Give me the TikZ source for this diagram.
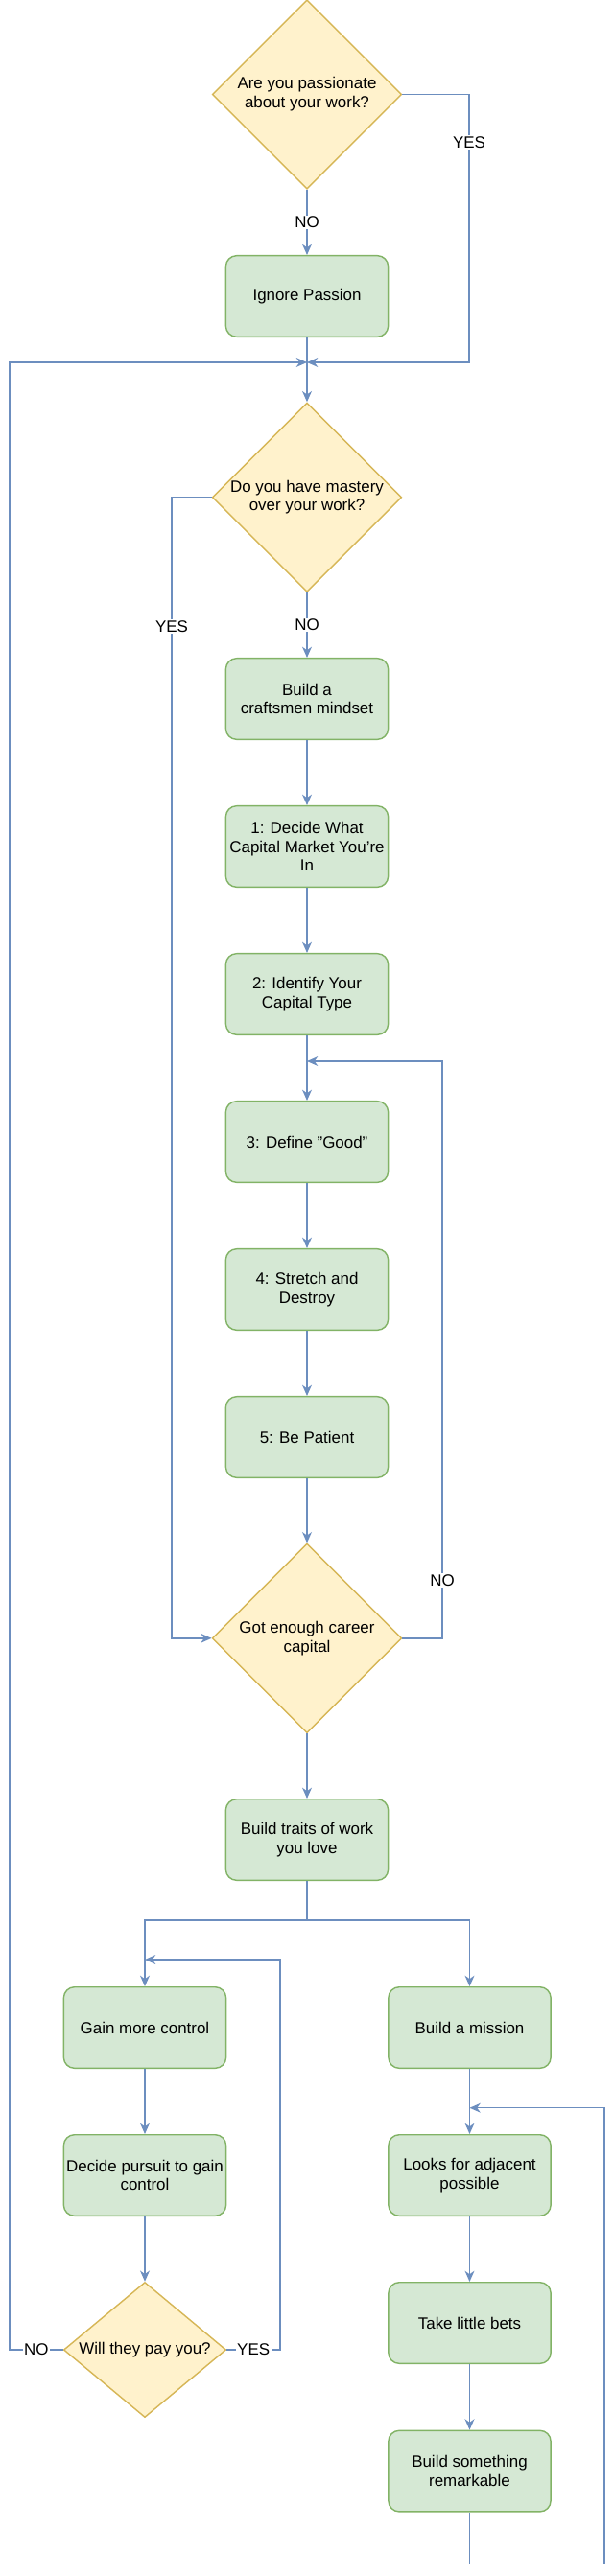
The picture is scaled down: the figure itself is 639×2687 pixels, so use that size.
\documentclass[tikz,border=0pt]{standalone}
\usepackage{fontspec}
\setmainfont{Liberation Sans}
\usetikzlibrary{shapes.geometric,arrows.meta}

\definecolor{procfill}{HTML}{D5E8D4}
\definecolor{procdraw}{HTML}{82B366}
\definecolor{decfill}{HTML}{FFF2CC}
\definecolor{decdraw}{HTML}{D6B656}
\definecolor{flowcol}{HTML}{6C8EBF}

\tikzset{
  basefont/.style={font=\fontsize{12}{14}\selectfont},
  process/.style={basefont, draw=procdraw, fill=procfill, line width=1pt,
    rounded corners=8pt, minimum width=120pt, minimum height=60pt,
    inner sep=1pt, align=center},
  decision/.style={basefont, diamond, draw=decdraw, fill=decfill, line width=1pt,
    minimum width=140pt, minimum height=140pt, inner sep=-4pt, align=center},
  flow/.style={draw=flowcol, line width=1pt,
    -{Stealth[length=8pt,width=7pt,inset=2.5pt]}},
  flowline/.style={draw=flowcol, line width=1pt},
  edgelabel/.style={basefont, fill=white, inner sep=1pt}
}

\begin{document}
\begin{tikzpicture}[x=0.709pt, y=-0.709pt]
\useasboundingbox (0,0) rectangle (639,2687);

% main column
\node[decision] (passion) at (320,98.5) {Are you passionate\\about your work?};
\node[process] (ignore) at (320,309) {Ignore Passion};
\coordinate (join) at (320,378);
\node[decision] (mastery) at (320,518.7) {Do you have mastery\\over your work?};
\node[process] (craft) at (320,729) {Build a\\craftsmen mindset};
\node[process] (market) at (320,883) {1: Decide What\\Capital Market You’re\\In};
\node[process] (captype) at (320,1037) {2: Identify Your\\Capital Type};
\node[process] (good) at (320,1191) {3: Define "Good"};
\node[process] (stretch) at (320,1345) {4: Stretch and\\Destroy};
\node[process] (patient) at (320,1499) {5: Be Patient};
\node[decision] (capital) at (320,1708.8) {Got enough career\\capital};
\node[process] (traits) at (320,1919) {Build traits of work\\you love};

% left branch
\node[process] (control) at (151,2115) {Gain more control};
\node[process] (pursuit) at (151,2269) {Decide pursuit to gain\\control};
\node[decision, minimum width=120pt, minimum height=100pt, shape aspect=1.2] (pay) at (151,2451) {Will they pay you?};

% right branch
\node[process] (mission) at (489.5,2115) {Build a mission};
\node[process] (adjacent) at (489.5,2269) {Looks for adjacent\\possible};
\node[process] (bets) at (489.5,2423) {Take little bets};
\node[process] (remarkable) at (489.5,2577.6) {Build something\\remarkable};

% connectors
\draw[flow] (passion.south) -- node[edgelabel] {NO} (ignore.north);
\draw[flow] (passion.east) -- (489,98.5) -- node[edgelabel, pos=0.18] {YES} (489,378) -- (join);
\draw[flow] (ignore.south) -- (mastery.north);
\draw[flow] (pay.west) -- node[edgelabel] {NO} (10,2451) -- (10,378) -- (join);

\draw[flow] (mastery.south) -- node[edgelabel] {NO} (craft.north);
\draw[flow] (mastery.west) -- (179,518.7) -- node[edgelabel, pos=0.113] {YES} (179,1708.8) -- (capital.west);
\draw[flow] (craft) -- (market);
\draw[flow] (market) -- (captype);
\draw[flow] (captype) -- (good);
\draw[flow] (good) -- (stretch);
\draw[flow] (stretch) -- (patient);
\draw[flow] (patient) -- (capital);
\draw[flow] (capital.east) -- (461,1708.8) -- node[edgelabel, pos=0.1] {NO} (461,1107) -- (320,1107);
\draw[flow] (capital.south) -- (traits.north);

\draw[flowline] (traits.south) -- (320,2003) coordinate (split);
\draw[flow] (split) -| (control.north);
\draw[flow] (split) -| (mission.north);

\draw[flow] (control) -- (pursuit);
\draw[flow] (pursuit) -- (pay);
\draw[flow] (pay.east) -- node[edgelabel] {YES} (292,2451) -- (292,2044) -- (151,2044);

\draw[flow] (mission) -- (adjacent);
\draw[flow] (adjacent) -- (bets);
\draw[flow] (bets) -- (remarkable);
\draw[flow] (remarkable.south) -- (489.5,2674.6) -- (630,2674.6) -- (630,2198.7) -- (489.5,2198.7);
\end{tikzpicture}
\end{document}
